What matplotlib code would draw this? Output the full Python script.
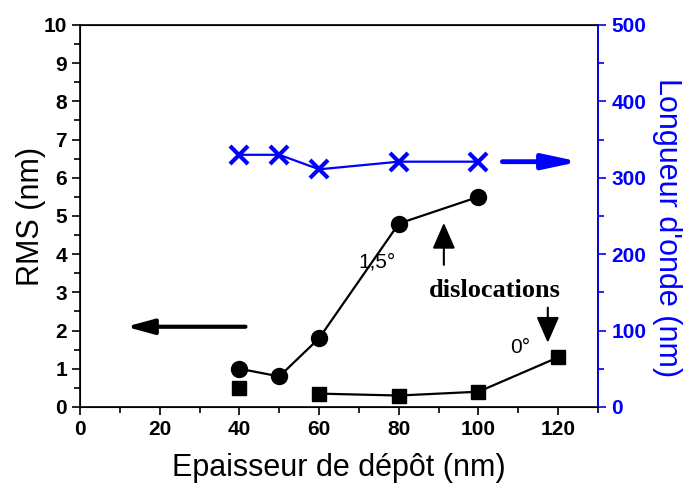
import numpy as np
import matplotlib.pyplot as plt
from matplotlib.ticker import MultipleLocator

plt.rcParams['font.family'] = ['Liberation Sans', 'DejaVu Sans']

# data
ep_circ = [40, 50, 60, 80, 100]
rms_circ = [1.0, 0.8, 1.8, 4.8, 5.5]          # 1,5 deg
ep_sq = [40, 60, 80, 100, 120]
rms_sq = [0.5, 0.35, 0.3, 0.4, 1.3]            # 0 deg
ep_cross = [40, 50, 60, 80, 100]
lambda_cross = [330, 330, 311, 321, 321]       # longueur d'onde

fig = plt.figure(figsize=(6.85, 4.88), dpi=100)
ax = fig.add_axes([0.117, 0.166, 0.756, 0.783])

ax.plot(ep_circ, rms_circ, '-o', color='black', lw=1.6, ms=11.5)
ax.plot(ep_sq[1:], rms_sq[1:], '-', color='black', lw=1.6)
ax.plot(ep_sq, rms_sq, 's', color='black', ms=10)

ax.set_xlim(0, 130)
ax.set_ylim(0, 10)
ax.xaxis.set_major_locator(MultipleLocator(20))
ax.xaxis.set_minor_locator(MultipleLocator(10))
ax.yaxis.set_major_locator(MultipleLocator(1))
ax.yaxis.set_minor_locator(MultipleLocator(0.5))
ax.tick_params(which='both', direction='out', width=1.2, labelsize=15)
ax.tick_params(which='major', length=6)
ax.tick_params(which='minor', length=4)
for lab in ax.get_xticklabels() + ax.get_yticklabels():
    lab.set_fontweight('bold')
ax.set_xlabel('Epaisseur de dépôt (nm)', fontsize=22, labelpad=10)
ax.set_ylabel('RMS (nm)', fontsize=22, labelpad=-2)
for s in ax.spines.values():
    s.set_linewidth(1.2)

ax2 = ax.twinx()
ax2.plot(ep_cross, lambda_cross, '-x', color='blue', lw=1.6, ms=13, mew=3)
ax2.set_ylim(0, 500)
ax2.yaxis.set_major_locator(MultipleLocator(100))
ax2.yaxis.set_minor_locator(MultipleLocator(50))
ax2.tick_params(which='both', direction='out', width=1.2, colors='blue', labelsize=15)
ax2.tick_params(which='major', length=6)
ax2.tick_params(which='minor', length=4)
for lab in ax2.get_yticklabels():
    lab.set_fontweight('bold')
ax2.spines['right'].set_color('blue')
ax2.spines['right'].set_linewidth(1.2)
ax2.set_ylabel("Longueur d'onde (nm)", fontsize=22, color='blue', rotation=270, labelpad=26)
ax2.yaxis.label.set_y(0.47)

# direction arrows
ax.annotate('', xy=(11.5, 2.1), xytext=(41.5, 2.1),
            arrowprops=dict(arrowstyle='-|>,head_length=1.65,head_width=0.45', color='black', lw=3,
                            shrinkA=0, shrinkB=0))
ax2.annotate('', xy=(125.3, 321), xytext=(106, 321),
             arrowprops=dict(arrowstyle='-|>,head_length=2.1,head_width=0.45', color='blue', lw=3.5,
                             shrinkA=0, shrinkB=0))

# dislocation markers
ax.annotate('', xy=(91.3, 4.82), xytext=(91.3, 3.72),
            arrowprops=dict(arrowstyle='-|>,head_length=1.6,head_width=0.7', color='black', lw=1.5,
                            shrinkA=0, shrinkB=0))
ax.annotate('', xy=(117.4, 1.68), xytext=(117.4, 2.6),
            arrowprops=dict(arrowstyle='-|>,head_length=1.6,head_width=0.7', color='black', lw=1.5,
                            shrinkA=0, shrinkB=0))
ax.text(104, 3.05, 'dislocations', fontsize=19, fontweight='bold',
        family=['Liberation Serif', 'DejaVu Serif'], ha='center', va='center')
ax.text(74.5, 3.8, '1,5°', fontsize=15, ha='center', va='center')
ax.text(110.5, 1.55, '0°', fontsize=15, ha='center', va='center')

fig.savefig('out.png', dpi=100)
